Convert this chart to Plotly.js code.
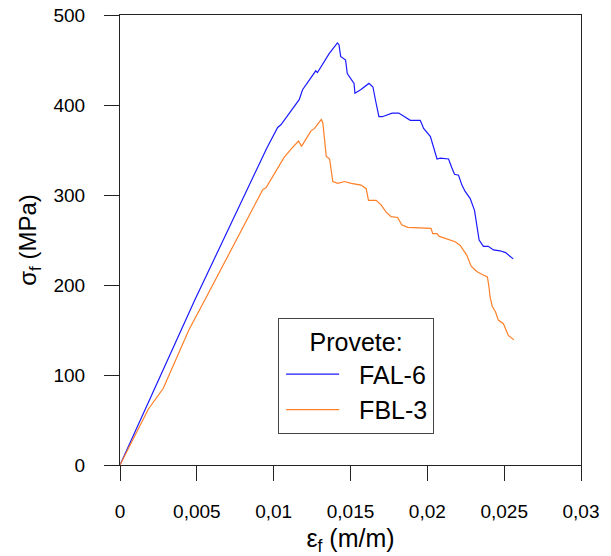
<!DOCTYPE html>
<html>
<head>
<meta charset="utf-8">
<script src="https://cdn.plot.ly/plotly-3.0.1.min.js"></script>
<style>html,body{margin:0;padding:0;background:#fff;}#chart{width:611px;height:556px;}</style>
</head>
<body>
<div id="chart"></div>
<script>
// FAL-6 (blue)
const falStrain = [0, 0.00394, 0.00486, 0.00955, 0.01026, 0.01047, 0.01166, 0.01188, 0.01231, 0.01274, 0.01285, 0.01361, 0.01415, 0.01425, 0.01436, 0.01468, 0.01479, 0.01523, 0.01529, 0.01566, 0.0162, 0.01646, 0.01663, 0.01685, 0.01706, 0.01771, 0.01814, 0.01835, 0.01889, 0.01954, 0.01976, 0.0202, 0.02041, 0.02063, 0.02084, 0.02138, 0.0216, 0.02177, 0.02203, 0.02225, 0.02246, 0.02279, 0.02307, 0.02322, 0.02337, 0.02365, 0.02397, 0.0243, 0.02473, 0.02509, 0.02559];
const falStress = [0, 150, 183, 352, 375, 378, 406, 417, 427, 438, 436, 457, 469, 467, 454, 450, 435, 424, 413, 417, 424, 420, 405, 387, 387, 391, 391, 389, 383, 383, 374, 365, 354, 340, 341, 340, 330, 323, 322, 311, 304, 296, 283, 265, 250, 243, 243, 239, 238, 236, 229];
// FBL-3 (orange)
const fblStrain = [0, 0.00184, 0.00281, 0.00448, 0.00551, 0.00929, 0.0095, 0.01069, 0.01119, 0.01162, 0.01181, 0.01242, 0.01266, 0.0131, 0.0132, 0.01335, 0.01342, 0.01364, 0.01385, 0.01418, 0.01461, 0.01505, 0.01537, 0.01569, 0.01602, 0.01617, 0.01667, 0.01699, 0.01732, 0.01764, 0.01807, 0.01833, 0.01872, 0.01958, 0.02024, 0.02035, 0.02063, 0.02078, 0.02138, 0.02181, 0.02214, 0.02257, 0.02285, 0.02322, 0.02354, 0.02391, 0.02401, 0.02408, 0.02423, 0.02444, 0.02462, 0.02495, 0.02527, 0.02564];
const fblStress = [0, 62, 85, 150, 183, 306, 308, 342, 352, 360, 354, 371, 374, 384, 380, 350, 343, 340, 315, 313, 315, 313, 312, 311, 307, 294, 294, 289, 281, 276, 275, 267, 264, 263, 263, 257, 257, 254, 251, 248, 244, 233, 221, 215, 212, 209, 198, 187, 176, 170, 161, 157, 144, 139];

const seriesNames = ["FAL-6", "FBL-3"];
const legendTitle = "Provete:";
const xTitle = "ε<sub>f</sub> (m/m)";
const yTitle = "σ<sub>f</sub> (MPa)";

const font = "Arial, 'Liberation Sans', sans-serif";

const traces = [
  {x: falStrain, y: falStress, name: seriesNames[0], type: "scatter", mode: "lines",
   line: {color: "#1a1aff", width: 1.2}},
  {x: fblStrain, y: fblStress, name: seriesNames[1], type: "scatter", mode: "lines",
   line: {color: "#ff7f27", width: 1.2}}
];

const axisCommon = {
  showgrid: false, zeroline: false, showline: true, linecolor: "#222", linewidth: 1,
  mirror: true, ticks: "outside", ticklen: 15, tickcolor: "#222", tickwidth: 1,
  tickfont: {family: font, size: 19, color: "#000"}
};

const layout = {
  width: 611, height: 556,
  margin: {l: 120, r: 30, t: 15, b: 91},
  paper_bgcolor: "#fff", plot_bgcolor: "#fff",
  separators: ", ",
  font: {family: font, color: "#000"},
  xaxis: Object.assign({}, axisCommon, {
    range: [0, 0.03], tick0: 0, dtick: 0.005, ticklabelstandoff: 14,
    title: {text: xTitle, font: {family: font, size: 25, color: "#000"}, standoff: 11}
  }),
  yaxis: Object.assign({}, axisCommon, {
    range: [0, 500], tick0: 0, dtick: 100, ticklabelstandoff: 15,
    title: {text: yTitle, font: {family: font, size: 24, color: "#000"}, standoff: 10}
  }),
  showlegend: true,
  legend: {
    x: 0.343, y: 0.327, xanchor: "left", yanchor: "top",
    bgcolor: "#fff", bordercolor: "#444", borderwidth: 1,
    font: {family: font, size: 25, color: "#000"},
    title: {text: legendTitle, side: "top center", font: {family: font, size: 25, color: "#000"}},
    itemwidth: 70, tracegroupgap: 0, entrywidth: 160, entrywidthmode: "pixels"
  }
};

Plotly.newPlot("chart", traces, layout, {displayModeBar: false, staticPlot: true}).then(function (gd) {
  // lengthen legend line samples to match the reference
  gd.querySelectorAll(".legend .legendlines path").forEach(function (p) {
    p.setAttribute("d", "M7,0h53");
  });
});
</script>
</body>
</html>
